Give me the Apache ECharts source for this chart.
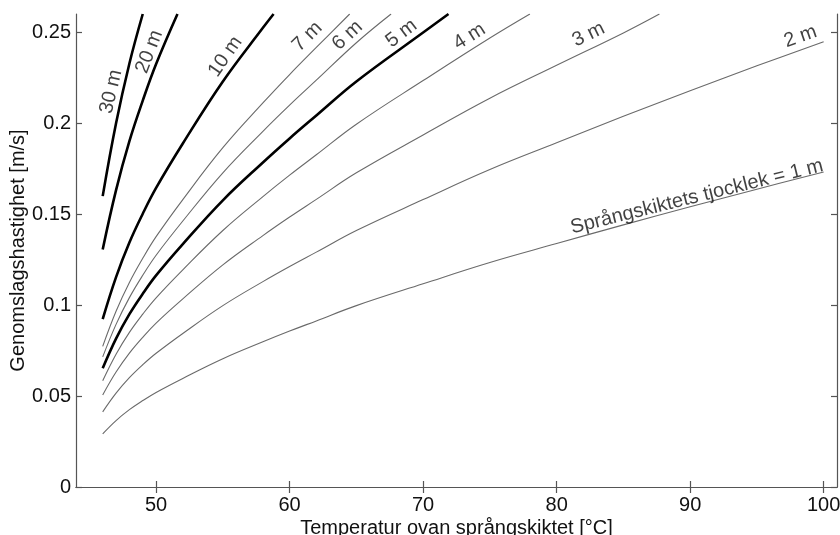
<!DOCTYPE html>
<html>
<head>
<meta charset="utf-8">
<script src="https://cdn.jsdelivr.net/npm/echarts@6/dist/echarts.min.js"></script>
<style>
  html, body { margin: 0; padding: 0; background: #fff; }
  #chart { width: 840px; height: 535px; }
</style>
</head>
<body>
<div id="chart"></div>
<script>
// temperatur ovan språngskiktet (x), läst ur bilden
const temps = [46, 47, 48, 49, 50, 52, 55, 58, 60, 62, 65, 70, 75, 80, 85, 90, 95, 100];

// genomslagshastighet [m/s] per tjocklek, avläst
const v1m = [0.0292, 0.0365, 0.0425, 0.0475, 0.0520, 0.0597, 0.0705, 0.0798, 0.0857, 0.0913, 0.0997, 0.1117, 0.1234, 0.1338, 0.1441, 0.1540, 0.1637, 0.1731];
const v2m = [0.0413, 0.0516, 0.0601, 0.0672, 0.0735, 0.0844, 0.0997, 0.1129, 0.1212, 0.1291, 0.1410, 0.1580, 0.1745, 0.1892, 0.2038, 0.2178, 0.2315, 0.2448];
const v3m = [0.0506, 0.0632, 0.0736, 0.0823, 0.0901, 0.1034, 0.1221, 0.1382, 0.1484, 0.1581, 0.1727, 0.1935, 0.2137, 0.2318, 0.2496];
const v4m = [0.0584, 0.0730, 0.0850, 0.0950, 0.1040, 0.1194, 0.1410, 0.1596, 0.1714, 0.1826, 0.1994, 0.2234, 0.2468];
const v5m = [0.0653, 0.0816, 0.0950, 0.1062, 0.1163, 0.1335, 0.1576, 0.1784, 0.1916, 0.2042, 0.2229, 0.2498];
const v6m = [0.0715, 0.0894, 0.1041, 0.1164, 0.1274, 0.1462, 0.1727, 0.1955, 0.2099, 0.2236, 0.2442];
const v7m = [0.0773, 0.0966, 0.1124, 0.1257, 0.1376, 0.1580, 0.1865, 0.2111, 0.2267, 0.2416];
const v10m = [0.0923, 0.1154, 0.1344, 0.1502, 0.1644, 0.1888, 0.2229, 0.2524];
const v20m = [0.1306, 0.1632, 0.1901, 0.2124, 0.2325];
const v30m = [0.1599, 0.1999, 0.2328];

const curveNames = ['1 m', '2 m', '3 m', '4 m', '5 m', '6 m', '7 m', '10 m', '20 m', '30 m'];
const curveValues = [v1m, v2m, v3m, v4m, v5m, v6m, v7m, v10m, v20m, v30m];
// där kurvan lämnar diagrammet upptill (null = går hela vägen)
const exitTemps = [null, null, 87.7, 78.0, 71.9, 67.6, 64.5, 58.8, 51.6, 49.0];
const thickCurves = ['5 m', '10 m', '20 m', '30 m'];

const xTicks = [50, 60, 70, 80, 90, 100];
const yTicks = [0, 0.05, 0.1, 0.15, 0.2, 0.25];
const xMin = 44, xMax = 101, yMin = 0, yMax = 0.26;

// kurvetiketter: text, temp, hastighet, vinkel
const labelTexts = ['30 m', '20 m', '10 m', '7 m', '6 m', '5 m', '4 m', '3 m', '2 m', 'Språngskiktets tjocklek = 1 m'];
const labelTemps = [46.64, 49.49, 55.19, 61.33, 64.33, 68.38, 73.48, 82.4, 98.27, 90.5];
const labelVals = [0.2173, 0.2393, 0.2366, 0.2476, 0.2482, 0.2493, 0.2476, 0.2487, 0.2476, 0.1595];
const labelRot = [77, 69, 55, 45, 43, 37, 32, 26, 19, 14];

const font = "'Liberation Sans', Arial, Helvetica, sans-serif";
const frameColor = '#555';

let chart = echarts.init(document.getElementById('chart'), null, { renderer: 'canvas' });

let curveSeries = curveNames.map(function (name, k) {
  let vals = curveValues[k];
  let data = vals.map(function (v, i) { return [temps[i], v]; });
  if (exitTemps[k] !== null) data.push([exitTemps[k], yMax]);
  let thick = thickCurves.indexOf(name) >= 0;
  return {
    name: name,
    type: 'line',
    data: data,
    showSymbol: false,
    symbol: 'none',
    smooth: 0.4,
    silent: true,
    lineStyle: {
      color: thick ? '#000' : '#6a6a6a',
      width: thick ? 2.6 : 1.1
    },
    z: thick ? 3 : 2
  };
});

let labelSeries = {
  type: 'scatter',
  symbolSize: 1,
  silent: true,
  itemStyle: { color: 'rgba(0,0,0,0)' },
  data: labelTexts.map(function (t, i) {
    return {
      name: t,
      value: [labelTemps[i], labelVals[i]],
      label: { rotate: labelRot[i] }
    };
  }),
  label: {
    show: true,
    position: 'inside',
    formatter: function (p) { return p.name; },
    fontSize: 20,
    fontFamily: font,
    color: '#111'
  },
  z: 5
};

function frameAxis(extra) {
  return Object.assign({
    type: 'value',
    splitLine: { show: false },
    axisLine: { show: true, lineStyle: { color: frameColor, width: 1.2 } },
    axisTick: { show: true, inside: true, length: 6, lineStyle: { color: frameColor, width: 1.2 } }
  }, extra);
}

let option = {
  animation: false,
  backgroundColor: '#fff',
  grid: { left: 76, right: 3, top: 14, bottom: 48, containLabel: false, outerBoundsMode: 'none' },
  xAxis: [
    frameAxis({
      position: 'bottom',
      min: xMin, max: xMax,
      axisTick: { show: true, inside: true, length: 6, customValues: xTicks, lineStyle: { color: frameColor, width: 1.2 } },
      axisLabel: { customValues: xTicks, fontSize: 20, fontFamily: font, color: '#111', margin: 8 },
      name: 'Temperatur ovan språngskiktet [°C]',
      nameLocation: 'middle',
      nameGap: 31,
      nameMoveOverlap: false,
      nameTextStyle: { fontSize: 20, fontFamily: font, color: '#111' }
    }),
    frameAxis({
      position: 'top',
      min: xMin, max: xMax,
      axisTick: { show: true, inside: true, length: 6, customValues: xTicks, lineStyle: { color: frameColor, width: 1.2 } },
      axisLabel: { show: false }
    })
  ],
  yAxis: [
    frameAxis({
      position: 'left',
      min: yMin, max: yMax,
      axisTick: { show: true, inside: true, length: 6, customValues: yTicks, lineStyle: { color: frameColor, width: 1.2 } },
      axisLabel: { customValues: yTicks, fontSize: 20, fontFamily: font, color: '#111', margin: 5 },
      name: 'Genomslagshastighet [m/s]',
      nameLocation: 'middle',
      nameGap: 48,
      nameMoveOverlap: false,
      nameTextStyle: { fontSize: 20, fontFamily: font, color: '#111' }
    }),
    frameAxis({
      position: 'right',
      min: yMin, max: yMax,
      axisTick: { show: true, inside: true, length: 6, customValues: yTicks, lineStyle: { color: frameColor, width: 1.2 } },
      axisLabel: { show: false }
    })
  ],
  series: curveSeries.concat([labelSeries])
};

chart.setOption(option);
</script>
</body>
</html>
